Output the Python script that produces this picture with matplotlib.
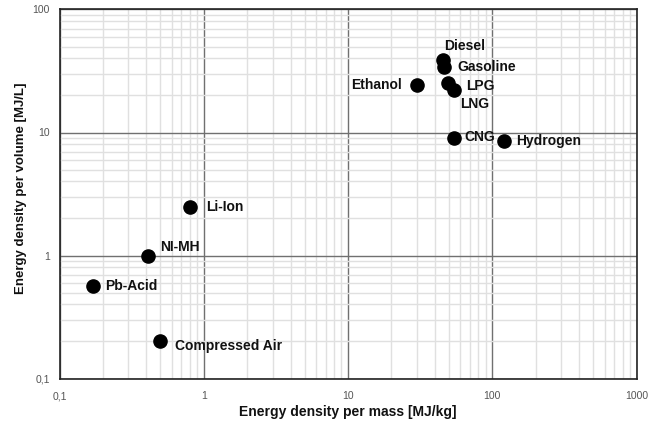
import matplotlib
matplotlib.use("Agg")
import matplotlib.pyplot as plt
from matplotlib.ticker import FixedLocator, FuncFormatter, LogLocator, NullFormatter

plt.rcParams["font.family"] = ["Liberation Sans", "DejaVu Sans"]

# values
names = ["Diesel", "Gasoline", "Ethanol", "LPG", "LNG", "CNG", "Hydrogen",
         "Li-Ion", "NI-MH", "Pb-Acid", "Compressed Air"]
mass_density = [45.6, 46.4, 30.0, 49.5, 54.0, 54.0, 120.0, 0.8, 0.41, 0.17, 0.5]
volume_density = [38.6, 34.2, 24.3, 25.3, 22.2, 9.0, 8.5, 2.5, 0.99, 0.56, 0.2]

# label offsets in pixels (dx, dy) and horizontal alignment
offsets = {
    "Diesel": (1, 14, "left"),
    "Gasoline": (13, 0, "left"),
    "Ethanol": (-15, 0, "right"),
    "LPG": (18, -3, "left"),
    "LNG": (6, -14, "left"),
    "CNG": (11, 1, "left"),
    "Hydrogen": (12, 0, "left"),
    "Li-Ion": (16, 0, "left"),
    "NI-MH": (12, 9, "left"),
    "Pb-Acid": (12, 0, "left"),
    "Compressed Air": (15, -5, "left"),
}

fig = plt.figure(figsize=(6.57, 4.24), dpi=100)
ax = fig.add_axes([0.0906, 0.1073, 0.8782, 0.8703])

ax.set_xscale("log")
ax.set_yscale("log")
ax.set_xlim(0.1, 1000)
ax.set_ylim(0.1, 100)

ax.scatter(mass_density, volume_density, s=90, color="black", zorder=3)

for n, x, y in zip(names, mass_density, volume_density):
    dx, dy, ha = offsets[n]
    ax.annotate(n, (x, y), xytext=(dx, dy), textcoords="offset pixels",
                ha=ha, va="center", fontsize=10, fontweight="bold",
                color="#111111", zorder=4)

def fmt(v, pos):
    return ("%g" % v).replace(".", ",")

ax.xaxis.set_major_locator(FixedLocator([0.1, 1, 10, 100, 1000]))
ax.yaxis.set_major_locator(FixedLocator([0.1, 1, 10, 100]))
ax.xaxis.set_major_formatter(FuncFormatter(fmt))
ax.yaxis.set_major_formatter(FuncFormatter(fmt))
ax.xaxis.set_minor_locator(LogLocator(base=10, subs=range(2, 10), numticks=20))
ax.yaxis.set_minor_locator(LogLocator(base=10, subs=range(2, 10), numticks=20))
ax.xaxis.set_minor_formatter(NullFormatter())
ax.yaxis.set_minor_formatter(NullFormatter())

ax.grid(which="major", color="#707070", linewidth=1.0)
ax.grid(which="minor", color="#e0e0e0", linewidth=1.0)
ax.set_axisbelow(True)
ax.tick_params(which="both", length=0, labelsize=7.5, colors="#555555")
ax.tick_params(axis="x", pad=9)
ax.tick_params(axis="y", pad=7)

for s in ax.spines.values():
    s.set_color("#222222")
    s.set_linewidth(1.2)

ax.set_xlabel("Energy density per mass [MJ/kg]", fontsize=10, fontweight="bold",
              labelpad=3, color="#111111")
ax.set_ylabel("Energy density per volume [MJ/L]", fontsize=9.5, fontweight="bold",
              color="#111111")
ax.yaxis.set_label_coords(-0.056, 0.516)

fig.savefig("out.png", dpi=100)
